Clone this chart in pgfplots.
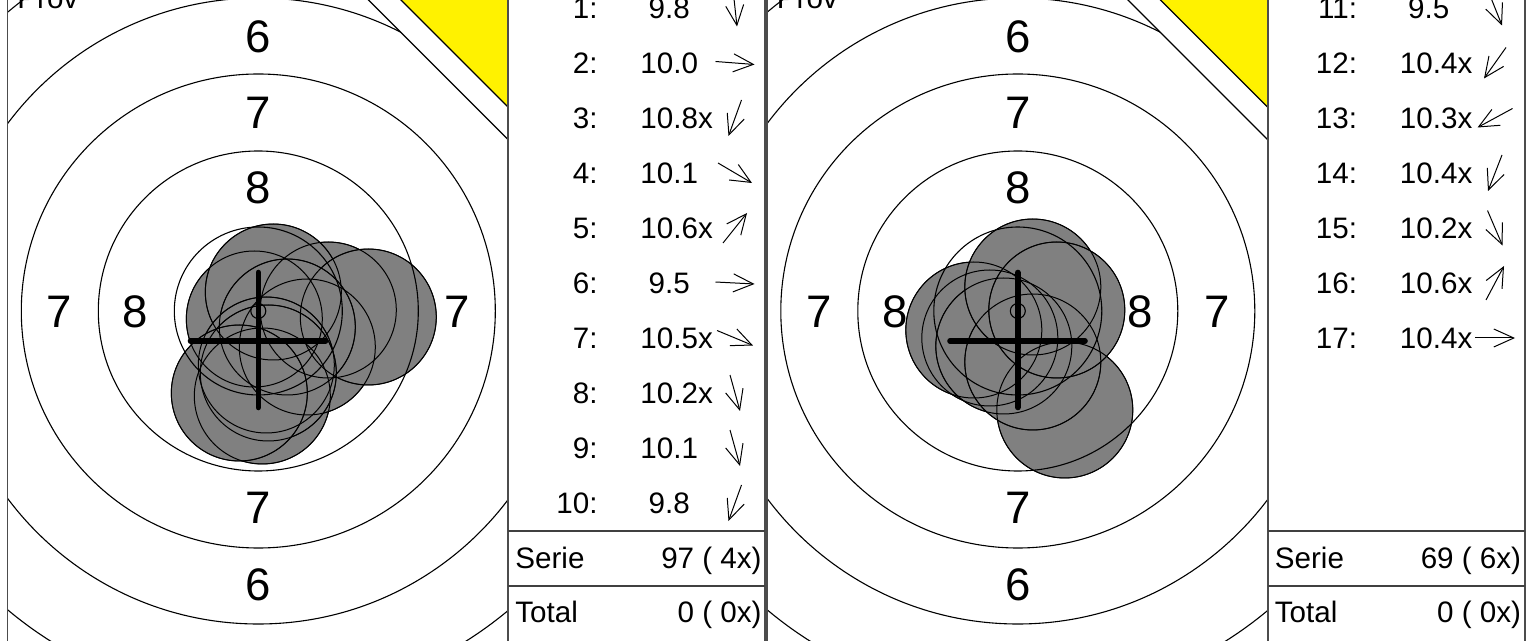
\documentclass[border=0pt]{standalone}
\usepackage{pgfplots}
\pgfplotsset{compat=1.18}
\usepackage{pgfplotstable}
\usepackage{fontspec}
\setmainfont{Liberation Sans}
\usetikzlibrary{arrows.meta}

\newcommand\tabfont{\fontsize{14.8}{16}\selectfont}
\newcommand\ringfont{\fontsize{22.8}{24}\selectfont}
\newcommand\lsp{\kern0.278em}

% shot positions, px offsets from the target centre (y downwards)
\pgfplotstableread{
dx dy
4 85
70 -1
-4 8
49 36
15 -19
110 6
29 16
8 54
10 62
-19 82
}\shotsA
\pgfplotstableread{
dx dy
47 99
-28 27
-44 19
-14 35
15 51
15 -24
39 -1
}\shotsB

% direction arrows in the score lists (tail x, tail y, u, v)
\pgfplotstableread{
x y u v
733 -10.5 4 37
715.5 61.5 39 3
741.5 100 -13 36
718 163 34 20
723 243 24 -30
715.5 282 39 2
717 330.5 36 15
730 375 10 36
730 430 10 36
741.5 485 -13 36
}\arrowsA
\pgfplotstableread{
x y u v
1488 -9.5 14 35
1506 47.5 -22 31
1512.5 108.5 -35 19
1502 155 -14 36
1487.5 210.5 15 35
1486 300 18 -34
1475 338 40 0
}\arrowsB

\pgfplotsset{
  panel/.style={
    scale only axis, width=250.25pt, height=320.5pt,
    xmin=-250.8, xmax=249.7, ymin=-311, ymax=330, y dir=reverse,
    hide axis, anchor=south west, clip marker paths=true,
  },
}

\newcommand\target[1]{%
  \node[font=\ringfont] at (axis cs:0,-274) {6};
  \node[font=\ringfont] at (axis cs:0,-198) {7};
  \node[font=\ringfont] at (axis cs:0,-123) {8};
  \node[font=\ringfont] at (axis cs:0,197) {7};
  \node[font=\ringfont] at (axis cs:0,274) {6};
  \node[font=\ringfont] at (axis cs:-199,1) {7};
  \node[font=\ringfont] at (axis cs:-123,1) {8};
  \node[font=\ringfont] at (axis cs:122,1) {8};
  \node[font=\ringfont] at (axis cs:199,1) {7};
  \addplot[only marks, mark=*, mark size=34pt, mark options={fill=gray, draw=none}]
    table[x=dx, y=dy] {#1};
  \addplot[only marks, mark=o, mark size=34pt, black, mark options={line width=0.5pt}]
    table[x=dx, y=dy] {#1};
  \draw[line width=0.55pt] (axis cs:0,0) circle[radius=3.75pt];
  \draw[line width=0.55pt] (axis cs:0,0) circle[radius=42pt];
  \draw[line width=0.55pt] (axis cs:0,0) circle[radius=80pt];
  \draw[line width=0.55pt] (axis cs:0,0) circle[radius=118.5pt];
  \draw[line width=0.55pt] (axis cs:0,0) circle[radius=156.5pt];
  \draw[line width=0.55pt] (axis cs:0,0) circle[radius=195pt];
  \fill[white] (axis cs:100,-321.2) -- (axis cs:350,-71.2) -- (axis cs:350,-400) -- cycle;
  \draw[line width=0.6pt] (axis cs:100,-321.2) -- (axis cs:350,-71.2);
  \fill[yellow] (axis cs:130,-323.7) -- (axis cs:350,-103.7) -- (axis cs:350,-400) -- cycle;
  \draw[line width=0.6pt] (axis cs:130,-323.7) -- (axis cs:350,-103.7);
  \draw[line width=2.8pt, line cap=round] (axis cs:-67.8,30) -- (axis cs:67.2,30);
  \draw[line width=2.8pt, line cap=round] (axis cs:0,-38.5) -- (axis cs:0,96.5);
  \node[anchor=base west, font=\tabfont] at (axis cs:-241.3,-302.7) {Prov};
}

\newcommand\trow[5]{%
  \node[anchor=base east, font=\tabfont] at (axis cs:#1,#3) {#4:};
  \node[anchor=base west, font=\tabfont] at (axis cs:#2,#3) {#5};
}

\begin{document}
\begin{tikzpicture}[every node/.style={inner sep=0pt}]
\begin{axis}[panel, at={(3.75pt,0pt)}]
\target{\shotsA}
\end{axis}
\begin{axis}[panel, at={(383.5pt,0pt)}]
\target{\shotsB}
\end{axis}

\begin{axis}[
  scale only axis, width=763pt, height=320.5pt,
  xmin=0, xmax=1526, ymin=0, ymax=641, y dir=reverse,
  hide axis, clip=false, anchor=south west, at={(0pt,0pt)},
]
% frames
\draw[black!70, line width=0.85pt] (axis cs:7.5,-5) -- (axis cs:7.5,646);
\draw[black!70, line width=0.85pt] (axis cs:508,-5) -- (axis cs:508,646);
\draw[black!70, line width=0.85pt] (axis cs:765,-5) -- (axis cs:765,646);
\draw[black!70, line width=0.85pt] (axis cs:767,-5) -- (axis cs:767,646);
\draw[black!70, line width=0.85pt] (axis cs:1268,-5) -- (axis cs:1268,646);
\draw[black!70, line width=0.85pt] (axis cs:1525,-5) -- (axis cs:1525,646);
\draw[black!75, line width=0.7pt] (axis cs:508,531) -- (axis cs:765,531);
\draw[black!75, line width=0.7pt] (axis cs:508,586) -- (axis cs:765,586);
\draw[black!75, line width=0.7pt] (axis cs:1268,531) -- (axis cs:1525,531);
\draw[black!75, line width=0.7pt] (axis cs:1268,586) -- (axis cs:1525,586);

% score list, first series
\trow{598}{640}{18.6}{1}{\lsp 9.8}
\trow{598}{640}{73.6}{2}{10.0}
\trow{598}{640}{128.6}{3}{10.8x}
\trow{598}{640}{183.6}{4}{10.1}
\trow{598}{640}{238.6}{5}{10.6x}
\trow{598}{640}{293.6}{6}{\lsp 9.5}
\trow{598}{640}{348.6}{7}{10.5x}
\trow{598}{640}{403.6}{8}{10.2x}
\trow{598}{640}{458.6}{9}{10.1}
\trow{598}{640}{513.6}{10}{\lsp 9.8}
\node[anchor=base west, font=\tabfont] at (axis cs:515,568.6) {Serie};
\node[anchor=base east, font=\tabfont] at (axis cs:762,568.6) {97 ( 4x)};
\node[anchor=base west, font=\tabfont] at (axis cs:515,622.6) {Total};
\node[anchor=base east, font=\tabfont] at (axis cs:762,622.6) {0 ( 0x)};
\addplot[black, line width=0.5pt, -{Straight Barb[length=10pt,width=9pt]},
  quiver={u=\thisrow{u}, v=\thisrow{v}}] table {\arrowsA};

% score list, second series
\trow{1357.5}{1399.5}{18.6}{11}{\lsp 9.5}
\trow{1357.5}{1399.5}{73.6}{12}{10.4x}
\trow{1357.5}{1399.5}{128.6}{13}{10.3x}
\trow{1357.5}{1399.5}{183.6}{14}{10.4x}
\trow{1357.5}{1399.5}{238.6}{15}{10.2x}
\trow{1357.5}{1399.5}{293.6}{16}{10.6x}
\trow{1357.5}{1399.5}{348.6}{17}{10.4x}
\node[anchor=base west, font=\tabfont] at (axis cs:1274.5,568.6) {Serie};
\node[anchor=base east, font=\tabfont] at (axis cs:1521.5,568.6) {69 ( 6x)};
\node[anchor=base west, font=\tabfont] at (axis cs:1274.5,622.6) {Total};
\node[anchor=base east, font=\tabfont] at (axis cs:1521.5,622.6) {0 ( 0x)};
\addplot[black, line width=0.5pt, -{Straight Barb[length=10pt,width=9pt]},
  quiver={u=\thisrow{u}, v=\thisrow{v}}] table {\arrowsB};
\end{axis}
\pgfresetboundingbox
\path[use as bounding box] (0,0) rectangle (763pt,320.5pt);
\end{tikzpicture}
\end{document}
